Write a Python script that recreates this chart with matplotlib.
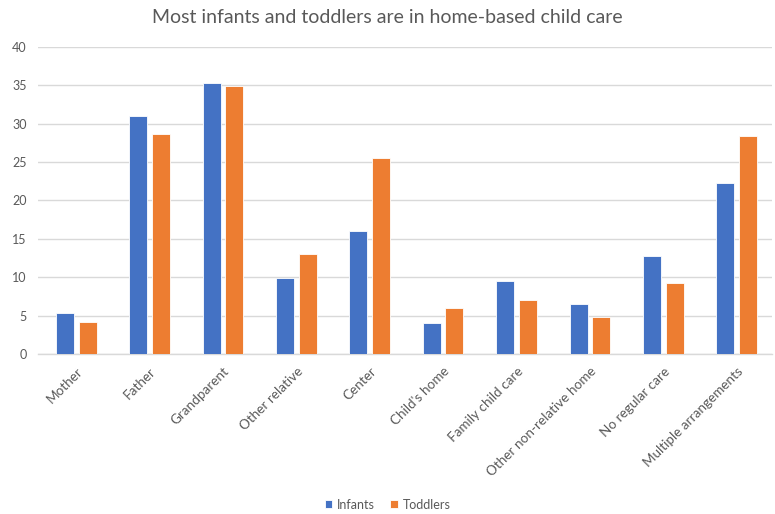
import matplotlib
matplotlib.use("Agg")
import matplotlib.pyplot as plt
import numpy as np

plt.rcParams['font.family'] = ['Lato', 'DejaVu Sans']

categories = ["Mother", "Father", "Grandparent", "Other relative", "Center",
              "Child's home", "Family child care", "Other non-relative home",
              "No regular care", "Multiple arrangements"]
infants = [5.4, 31.0, 35.3, 9.9, 16.0, 4.0, 9.5, 6.5, 12.8, 22.3]
toddlers = [4.2, 28.6, 34.9, 13.0, 25.5, 6.0, 7.1, 4.8, 9.3, 28.4]
yticks = [0, 5, 10, 15, 20, 25, 30, 35, 40]

blue = "#4472C4"
orange = "#ED7D31"
gray = "#595959"

fig = plt.figure(figsize=(7.75, 5.14), dpi=100)
ax = fig.add_axes([0.049, 0.311, 0.947, 0.598])

x = np.arange(len(categories))
w = 0.245
gap = 0.065
ax.bar(x - (w + gap) / 2, infants, width=w, color=blue, edgecolor="white", linewidth=0.6, label="Infants", zorder=3)
ax.bar(x + (w + gap) / 2, toddlers, width=w, color=orange, edgecolor="white", linewidth=0.6, label="Toddlers", zorder=3)

ax.set_xlim(-0.52, len(categories) - 0.52)
ax.set_ylim(0, 40)
ax.set_yticks(yticks)
ax.set_yticklabels([str(t) for t in yticks], color=gray, fontsize=9)
ax.yaxis.grid(True, color="#d9d9d9", linewidth=1, zorder=0)
ax.set_axisbelow(True)
for s in ["top", "right", "left"]:
    ax.spines[s].set_visible(False)
ax.spines["bottom"].set_color("#d9d9d9")
ax.spines["bottom"].set_linewidth(1)
ax.tick_params(axis="y", length=0, pad=8)
ax.tick_params(axis="x", length=0, pad=8)
ax.set_xticks(x)
ax.set_xticklabels(categories, rotation=45, ha="right", rotation_mode="anchor",
                   color=gray, fontsize=9.7)

fig.text(0.5, 0.965, "Most infants and toddlers are in home-based child care",
         ha="center", va="center", fontsize=14, color=gray)

leg = fig.legend(loc="center", bbox_to_anchor=(0.5, 0.018), ncol=2, frameon=False,
                 fontsize=9, handlelength=0.6, handleheight=0.6, columnspacing=1.2,
                 handletextpad=0.4)
for t in leg.get_texts():
    t.set_color(gray)

fig.savefig("out.png", dpi=100)
